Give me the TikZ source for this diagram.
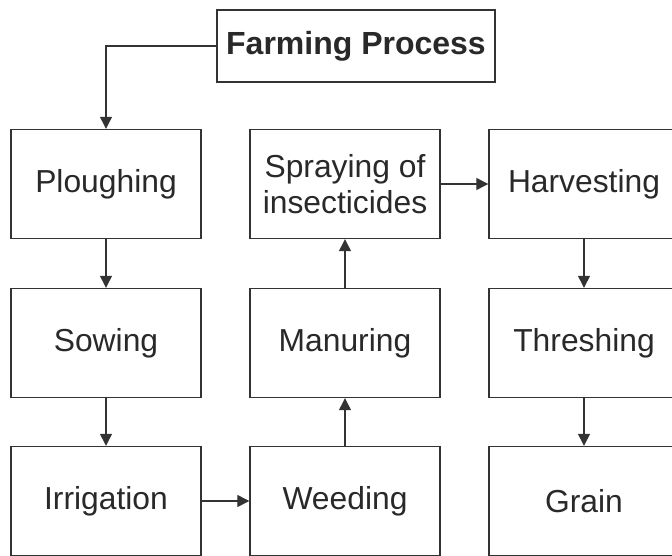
\documentclass[tikz,border=0pt]{standalone}
\usepackage{fontspec}
\setmainfont{Liberation Sans}
\usetikzlibrary{arrows.meta}
\definecolor{ink}{HTML}{333333}
\begin{document}
\begin{tikzpicture}[x=1pt,y=-1pt,
  stepbox/.style={draw=ink,line width=1.4pt,minimum width=190pt,minimum height=109pt,inner sep=0pt,
    font=\fontsize{31.8}{36}\selectfont,text=ink!80!black,align=center},
  conn/.style={draw=ink,line width=1.3pt,-{Triangle[length=12pt,width=12pt]}}]
\useasboundingbox (0,0) rectangle (672,556);
\clip (0,0) rectangle (672,556);
\fill[white] (0,0) rectangle (672,556);
\node[stepbox,minimum width=278pt,minimum height=72pt,font=\fontsize{32}{36}\selectfont\bfseries] (title) at (356,46) {Farming Process};
\node[stepbox] (plough) at (106,184) {Ploughing};
\node[stepbox] (spray) at (345,184) {Spraying of\\insecticides};
\node[stepbox] (harv) at (584,184) {Harvesting};
\node[stepbox] (sow) at (106,343) {Sowing};
\node[stepbox] (manure) at (345,343) {Manuring};
\node[stepbox] (thresh) at (584,343) {Threshing};
\node[stepbox] (irrig) at (106,501) {Irrigation};
\node[stepbox] (weed) at (345,501) {Weeding};
\node[stepbox] (grain) at (584,501) {Grain};
\draw[conn] (title.west) -| (plough.north);
\draw[conn] (plough) -- (sow);
\draw[conn] (sow) -- (irrig);
\draw[conn] (irrig) -- (weed);
\draw[conn] (weed) -- (manure);
\draw[conn] (manure) -- (spray);
\draw[conn] (spray) -- (harv);
\draw[conn] (harv) -- (thresh);
\draw[conn] (thresh) -- (grain);
\end{tikzpicture}
\end{document}
